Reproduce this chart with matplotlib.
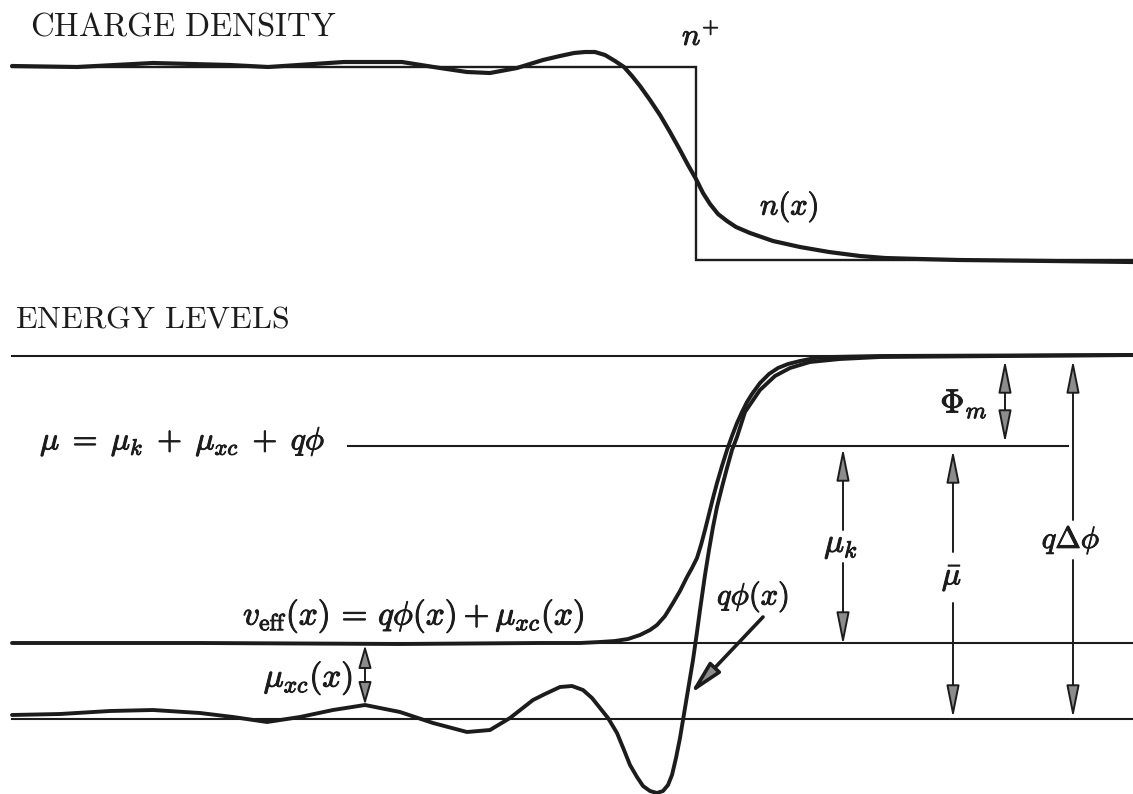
#charge density and energy level diagram for a metal surface
import matplotlib.pyplot as plt
from matplotlib.patches import FancyArrowPatch
import matplotlib.patheffects as pe

plt.rcParams["mathtext.fontset"] = "cm"
plt.rcParams["font.family"] = ["DejaVu Serif"]

INK = "#1c1c1c"
HEAD = "#8c8c8c"

#upper panel: jellium background n+ and electron density n(x)
step_x = [12, 696, 696, 1133]
step_y = [67, 67, 260, 260]
dens_x = [12, 77, 153, 230, 268, 344, 402, 440, 467, 490, 517, 543, 560, 574, 585, 595, 605, 615, 624, 632, 640,
          650, 660, 670, 680, 688, 696, 703, 710, 718, 727, 736, 750, 773, 800, 829, 860, 885, 920, 959, 1050, 1133]
dens_y = [66, 67, 63, 65, 67, 62, 62, 68, 72, 73, 68, 60, 56, 53, 52, 52, 55, 61, 67, 76, 86,
          100, 115, 132, 150, 165, 179, 193, 204, 214, 221, 227, 233, 241, 247, 252, 256, 258, 259, 260, 261, 262]

#lower panel: energy levels, (y, x start, x end)
vac_level = (356, 12, 1133)
mu_level = (446, 348, 1068)
veff_level = (643, 12, 1133)
bulk_level = (719, 12, 1133)

#electrostatic potential q*phi(x)
phi_x = [12, 60, 110, 153, 200, 233, 267, 300, 333, 365, 400, 433, 467, 490, 510, 533, 545, 560, 572, 583, 592,
         600, 608, 617, 624, 630, 637, 643, 650, 657, 663, 668, 672, 676, 680, 683, 688, 693, 697, 700, 705, 709,
         713, 717, 722, 727, 732, 737, 745, 760, 775, 790, 810, 840, 880, 1133]
phi_y = [715, 714, 711, 710, 713, 717, 722, 717, 710, 705, 712, 723, 732, 730, 718, 700, 694, 687, 686, 690, 698,
         708, 718, 733, 750, 765, 777, 786, 791, 793, 791, 785, 775, 758, 738, 720, 690, 660, 632, 610, 575, 550,
         527, 507, 487, 468, 450, 437, 412, 390, 376, 368, 362, 359, 357, 355]

#effective potential v_eff(x)
veff_x = [12, 200, 400, 540, 580, 600, 615, 628, 640, 650, 657, 665, 673, 680, 687, 692, 697, 701, 705, 709, 713,
          717, 722, 727, 732, 737, 742, 747, 752, 760, 769, 778, 788, 800, 815, 830, 880, 1133]
veff_y = [643, 643, 644, 643, 643, 642, 641, 639, 635, 630, 625, 616, 603, 591, 577, 568, 558, 545, 530, 514, 498,
          483, 466, 450, 436, 423, 412, 402, 394, 383, 374, 368, 364, 361, 358, 357, 356, 355]

#vertical arrows: x, tip at top, tip at bottom, label gap (or None)
mu_xc_arrow = (365, 645, 705, None)
phi_m_arrow = (1005, 360, 443, None)
mu_k_arrow = (843, 448, 645, (530, 563))
mu_bar_arrow = (953, 450, 718, (552, 603))
q_dphi_arrow = (1073, 360, 718, (520, 560))

#pointer to the q*phi(x) curve
pointer_tail = (763, 617)
pointer_tip = (690, 694)

fig = plt.figure(figsize=(11.33, 7.94), dpi=100)
ax = fig.add_axes([0, 0, 1, 1])
ax.set_xlim(0, 1133)
ax.set_ylim(794, 0)
ax.axis("off")

#upper panel
ax.plot(step_x, step_y, color=INK, lw=1.7, solid_joinstyle="miter")
ax.plot(dens_x, dens_y, color=INK, lw=3.0, solid_capstyle="round", solid_joinstyle="round")

#lower panel levels
for y, x0, x1 in [vac_level, mu_level, veff_level, bulk_level]:
    ax.plot([x0, x1], [y, y], color=INK, lw=1.5)

ax.plot(veff_x, veff_y, color=INK, lw=2.8, solid_capstyle="round", solid_joinstyle="round")
ax.plot(phi_x, phi_y, color=INK, lw=2.8, solid_capstyle="round", solid_joinstyle="round")


def head_arrow(p0, p1, style="-|>", hl=20, hw=4, lw=1.4):
    a = FancyArrowPatch(p0, p1, arrowstyle=f"{style},head_length={hl},head_width={hw}",
                        mutation_scale=1, lw=lw, fc=HEAD, ec=INK, shrinkA=0, shrinkB=0)
    ax.add_patch(a)


for x, top, bot, gap in [mu_xc_arrow, phi_m_arrow, mu_k_arrow, mu_bar_arrow, q_dphi_arrow]:
    hl = 14 if bot - top < 70 else 20
    if gap is None:
        head_arrow((x, top), (x, bot), style="<|-|>", hl=hl)
    else:
        head_arrow((x, gap[0]), (x, top), hl=hl)
        head_arrow((x, gap[1]), (x, bot), hl=hl)

head_arrow(pointer_tail, pointer_tip, hl=20, hw=4.5, lw=2.6)

#labels
bold = [pe.withStroke(linewidth=0.7, foreground=INK)]

ax.text(30, 35, r"$\mathrm{CHARGE\ DENSITY}$", fontsize=23.6, color=INK, va="baseline")
ax.text(15, 327, r"$\mathrm{ENERGY\ LEVELS}$", fontsize=23, color=INK, va="baseline")

#x, y, text, size, ha, va
labels = [
    (682, 45, r"$n^{+}$", 22, "left", "baseline"),
    (760, 207, r"$n(x)$", 22, "left", "center"),
    (40, 442, r"$\mu \;=\; \mu_k \;+\; \mu_{xc} \;+\; q\phi$", 23, "left", "center"),
    (243, 616, r"$v_{\rm eff}(x) \,=\, q\phi(x) + \mu_{xc}(x)$", 24, "left", "center"),
    (353, 678, r"$\mu_{xc}(x)$", 24, "right", "center"),
    (717, 597, r"$q\phi(x)$", 22, "left", "center"),
    (964, 404, r"$\Phi_m$", 24, "center", "center"),
    (841, 545, r"$\mu_k$", 24, "center", "center"),
    (952, 578, r"$\bar{\mu}$", 23, "center", "center"),
    (1071, 540, r"$q\Delta\phi$", 22, "center", "center"),
]
for x, y, s, size, ha, va in labels:
    ax.text(x, y, s, fontsize=size, color=INK, ha=ha, va=va, path_effects=bold)

fig.savefig("out.png", dpi=100, facecolor="white")
plt.close(fig)
